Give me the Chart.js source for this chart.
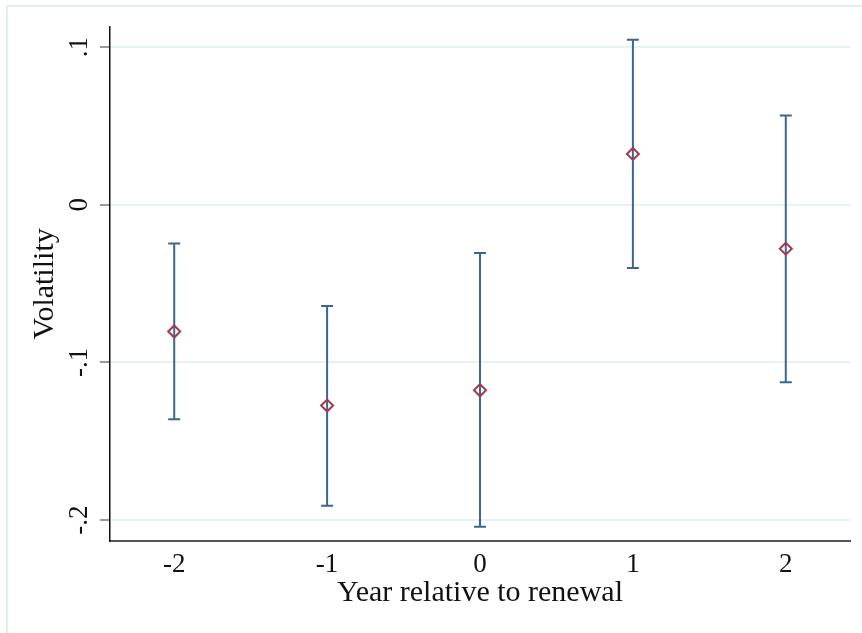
<!DOCTYPE html>
<html>
<head>
<meta charset="utf-8">
<title>Volatility by year relative to renewal</title>
<script src="https://cdn.jsdelivr.net/npm/chart.js@4/dist/chart.umd.min.js"></script>
<style>
  html, body { margin: 0; padding: 0; background: #fff; overflow: hidden; }
  #wrap { position: relative; width: 862px; height: 633px; }
  #frame {
    position: absolute; left: 6px; top: 5px; width: 900px; height: 700px;
    border-left: 2px solid #e4eef1; border-top: 2px solid #e4eef1;
    pointer-events: none;
  }
  canvas { position: absolute; left: 0; top: 0; }
</style>
</head>
<body>
<div id="wrap">
  <canvas id="myChart" width="862" height="633"></canvas>
  <div id="frame"></div>
</div>
<script>
// years relative to renewal, point estimates and 95% CI bounds
const years = [-2, -1, 0, 1, 2];
const yearLabels = ['-2', '-1', '0', '1', '2'];
const coef = [-0.0804, -0.1274, -0.1177, 0.0322, -0.0279];
const ciLow = [-0.1361, -0.1909, -0.2042, -0.0402, -0.1126];
const ciHigh = [-0.0246, -0.0643, -0.0307, 0.1046, 0.0565];

const yTicks = [-0.2, -0.1, 0, 0.1];
const yTickLabels = ['-.2', '-.1', '0', '.1'];

const serif = "'Liberation Serif', 'Times New Roman', serif";
const barColor = '#3a6690';
const markColor = '#a5394a';

// one small dataset per year for the CI spike, caps are 'line' point styles
const ciSets = years.map((yr, i) => ({
  type: 'scatter',
  showLine: true,
  data: [{ x: yr, y: ciLow[i] }, { x: yr, y: ciHigh[i] }],
  borderColor: barColor,
  borderWidth: 2,
  pointStyle: 'line',
  pointRadius: 6,
  pointBorderWidth: 2,
  pointBorderColor: barColor,
  order: 1
}));

const pointSet = {
  type: 'scatter',
  data: years.map((yr, i) => ({ x: yr, y: coef[i] })),
  pointStyle: 'rectRot',
  pointRadius: 6,
  pointBorderWidth: 2,
  pointBorderColor: markColor,
  pointBackgroundColor: 'rgba(0,0,0,0)',
  showLine: false,
  order: 0
};

const ctx = document.getElementById('myChart').getContext('2d');
const myChart = new Chart(ctx, {
  type: 'scatter',
  data: { datasets: [pointSet].concat(ciSets) },
  options: {
    responsive: false,
    animation: false,
    devicePixelRatio: 1,
    layout: { padding: { top: 27, right: 12, left: 0, bottom: 0 } },
    plugins: { legend: { display: false }, tooltip: { enabled: false } },
    scales: {
      x: {
        type: 'linear',
        min: -2.42,
        max: 2.42,
        afterBuildTicks: (scale) => { scale.ticks = years.map(v => ({ value: v })); },
        afterFit: (scale) => { scale.height = 92.3; },
        grid: { display: false, drawTicks: false },
        border: { display: true, color: '#555', width: 2 },
        ticks: {
          padding: 8,
          color: '#111',
          font: { family: serif, size: 27 },
          callback: (v) => yearLabels[years.indexOf(v)]
        },
        title: {
          display: true,
          text: 'Year relative to renewal',
          color: '#111',
          font: { family: serif, size: 30 },
          padding: { top: 0, bottom: 22 }
        }
      },
      y: {
        type: 'linear',
        min: -0.2131,
        max: 0.1127,
        afterBuildTicks: (scale) => { scale.ticks = yTicks.map(v => ({ value: v })); },
        afterFit: (scale) => { scale.width = 110; },
        grid: {
          color: '#e8f1f3',
          lineWidth: 2,
          drawTicks: true,
          tickLength: 10,
          tickColor: '#777',
          tickWidth: 1.5
        },
        border: { display: true, color: '#111', width: 1.5 },
        ticks: {
          minRotation: 90,
          maxRotation: 90,
          crossAlign: 'center',
          padding: 5,
          color: '#111',
          font: { family: serif, size: 27 },
          callback: (v) => yTickLabels[yTicks.indexOf(v)]
        },
        title: {
          display: true,
          text: 'Volatility',
          color: '#111',
          font: { family: serif, size: 30 },
          padding: { top: 27, bottom: 0 }
        }
      }
    }
  }
});
</script>
</body>
</html>
